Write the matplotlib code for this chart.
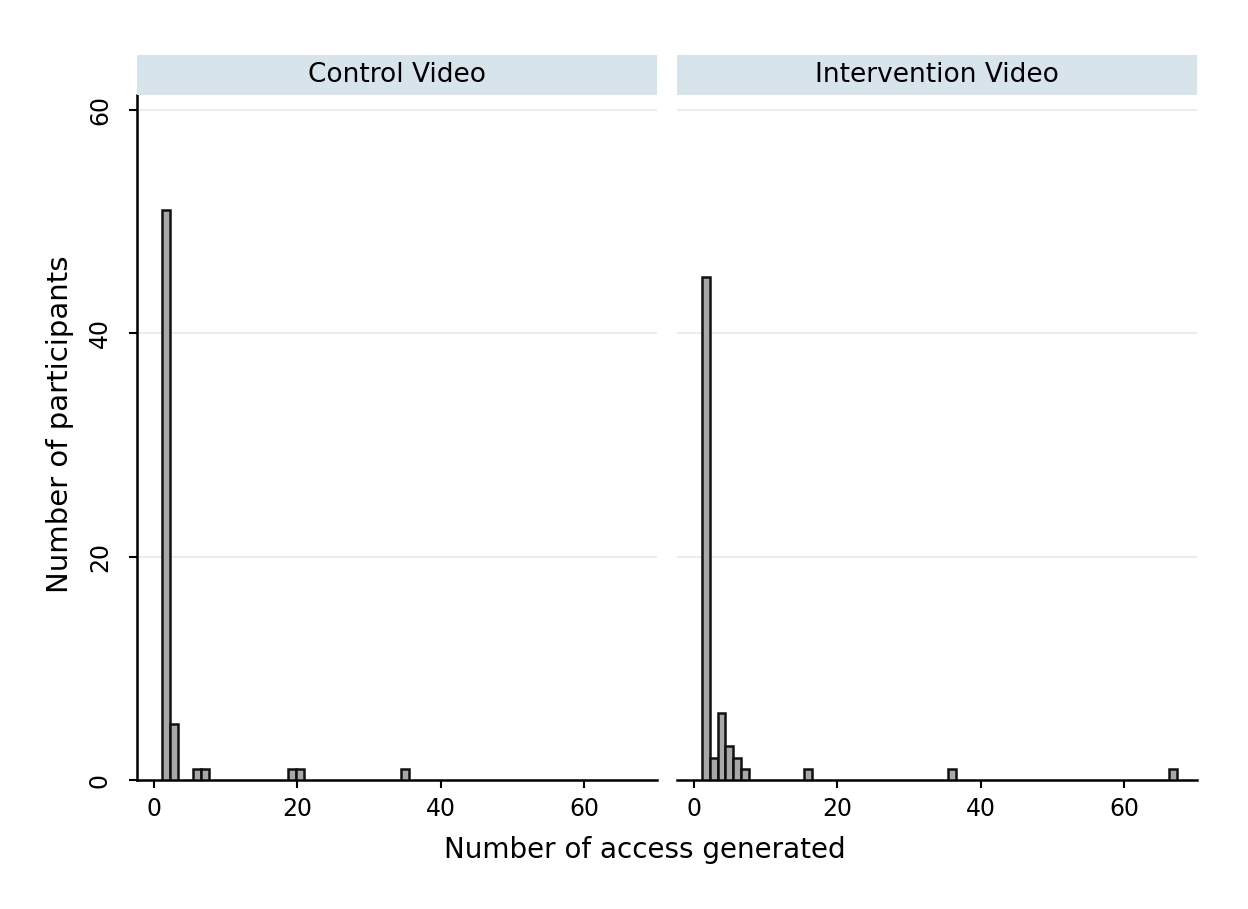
import numpy as np
import matplotlib.pyplot as plt

plt.rcParams['font.family'] = ['DejaVu Sans']

# bin centres (number of access) and frequencies
control_x = [1.7, 2.8, 6.1, 7.2, 19.3, 20.4, 35.0]
control_n = [51, 5, 1, 1, 1, 1, 1]
interv_x = [1.7, 2.8, 3.9, 5.0, 6.1, 7.2, 15.9, 36.0, 66.7]
interv_n = [45, 2, 6, 3, 2, 1, 1, 1, 1]

panels = [('Control Video', control_x, control_n),
          ('Intervention Video', interv_x, interv_n)]
xticks = [0, 20, 40, 60]
yticks = [0, 20, 40, 60]

W, H = 1248, 909
fig = plt.figure(figsize=(W / 100, H / 100), dpi=100)

lefts = [137, 677]
pw = 520
top, bottom = 95, 780
strip_top = 55

for i, (title, xs, ns) in enumerate(panels):
    ax = fig.add_axes([lefts[i] / W, 1 - bottom / H, pw / W, (bottom - top) / H])
    ax.bar(xs, ns, width=1.1, facecolor='#a8a8a8', edgecolor='#111111',
           linewidth=1.8, zorder=3)
    ax.set_xlim(-2.3, 70.1)
    ax.set_ylim(0, 61.3)
    for y in yticks[1:]:
        ax.axhline(y, color='#e6e9eb', lw=1.2, zorder=1)
    for s in ['top', 'right']:
        ax.spines[s].set_visible(False)
    ax.spines['bottom'].set_linewidth(1.8)
    ax.set_xticks(xticks)
    ax.tick_params(axis='x', direction='out', length=6, width=1.5,
                   labelsize=17, pad=6)
    if i == 0:
        ax.spines['left'].set_linewidth(1.8)
        ax.set_yticks(yticks)
        ax.set_yticklabels([str(t) for t in yticks], rotation=90, va='center')
        ax.tick_params(axis='y', direction='out', length=6, width=1.5,
                       labelsize=17, pad=12)
        ax.set_ylabel('Number of participants', fontsize=21, labelpad=10,
                      y=0.52)
    else:
        ax.spines['left'].set_visible(False)
        ax.set_yticks([])

    sax = fig.add_axes([lefts[i] / W, 1 - top / H, pw / W, (top - strip_top) / H])
    sax.set_facecolor('#d8e4eb')
    sax.set_xticks([])
    sax.set_yticks([])
    for s in sax.spines.values():
        s.set_visible(False)
    sax.text(0.5, 0.5, title, ha='center', va='center', fontsize=19,
             transform=sax.transAxes)

fig.text(645 / W, 1 - 850 / H, 'Number of access generated', ha='center',
         va='center', fontsize=20)

fig.savefig('out.png', dpi=100, facecolor='white')
